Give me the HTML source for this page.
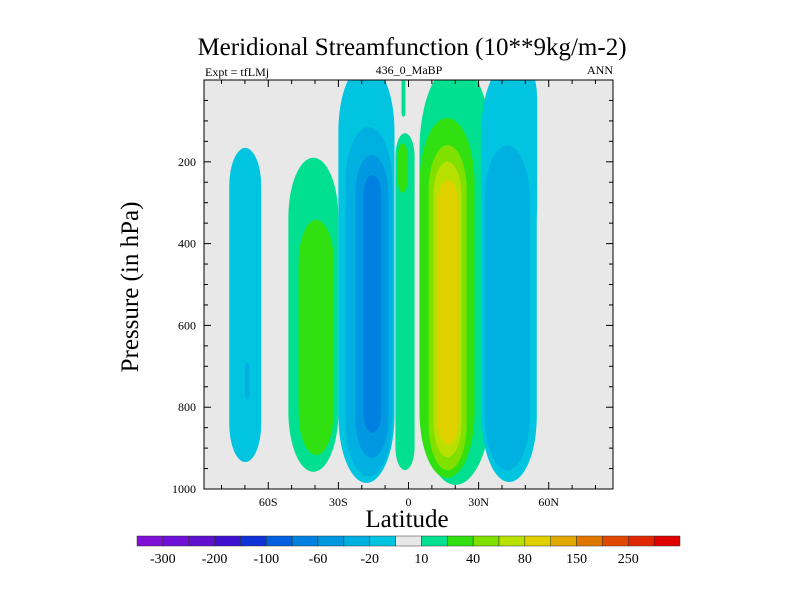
<!DOCTYPE html>
<html><head><meta charset="utf-8"><style>
body{margin:0;background:#fff;width:800px;height:600px;overflow:hidden}
svg{display:block;font-family:"Liberation Serif",serif}
</style></head><body>
<svg id="chart" width="800" height="600">
<text x="412" y="55" font-size="25" text-anchor="middle">Meridional Streamfunction (10**9kg/m-2)</text>
<text x="205" y="76" font-size="12">Expt = tfLMj</text>
<text x="409" y="74" font-size="12" text-anchor="middle">436_0_MaBP</text>
<text x="613" y="74" font-size="12" text-anchor="end">ANN</text>
<text transform="translate(138,287) rotate(-90)" font-size="25" text-anchor="middle">Pressure (in hPa)</text>
<text x="407" y="527" font-size="25" text-anchor="middle">Latitude</text>
<g id="plot"></g>
<g id="cbar"></g>
</svg>
<script>
const levels=[-300,-250,-200,-150,-100,-80,-60,-40,-20,-10,10,20,40,60,80,100,150,200,250,300];
const colors=["#8010D8","#7010D8","#6010D0","#4010D0","#1030D8","#0060E0","#0080E0","#0098E0","#00B0E0","#00C4E0","#E8E8E8","#00E090","#30E010","#80E000","#B8E000","#E0D000","#E0A800","#E07800","#E04800","#E02800","#E00000"];
const cbarLabels=["-300","-200","-100","-60","-20","10","40","80","150","250"];
const xTicks=[-60,-30,0,30,60];
const xTickLabels=["60S","30S","0","30N","60N"];
const yTicks=[200,400,600,800,1000];
// contour cells: level value, lat range, pressure range (hPa)
const cellLevel=[-10,-20, 10,20, -10,-20,-40,-60, 10,10,20, 10,20,40,60,80, -10,-10,-20];
const cellLat0=[-76.7,-70,-51.4,-47,-30,-27,-22.7,-19.3,-3,-5.6,-4.5,4.7,4.7,8.6,10.7,12.4,31.3,43,32.6];
const cellLat1=[-63,-68,-30,-32,-6,-7,-8.6,-11.6,-1.3,2.6,-0.5,35.6,28.3,24.9,22.7,21.4,54.9,55,51.9];
const cellP0=[166,690,190,342,-40,115,183,232,-40,130,155,-40,93,159,200,245,-40,-40,160];
const cellP1=[934,780,958,917,985,970,924,863,90,954,276,990,973,954,922,892,983,400,954];

const X0=204,X1=613,Y0=80,Y1=489,LAT0=-87.5,LAT1=87.5;
const xs=l=>X0+(l-LAT0)/(LAT1-LAT0)*(X1-X0);
const ys=p=>Y0+p/1000*(Y1-Y0);
const NS="http://www.w3.org/2000/svg";
function mk(t,a,parent){const e=document.createElementNS(NS,t);for(const k in a)e.setAttribute(k,a[k]);parent.appendChild(e);return e;}
function colorFor(v){let i=0;if(v>0){while(i<levels.length&&v>=levels[i])i++;}else{while(i<levels.length&&v>levels[i])i++;}return colors[i];}
const plot=document.getElementById('plot');
const defs=mk('defs',{},plot);
const cp=mk('clipPath',{id:'clip'},defs);mk('rect',{x:X0,y:Y0,width:X1-X0,height:Y1-Y0},cp);
const bg=mk('rect',{x:X0,y:Y0,width:X1-X0,height:Y1-Y0,fill:"#E8E8E8"},plot);


const cg=mk('g',{'clip-path':'url(#clip)'},plot);
const order=cellLevel.map((v,i)=>i).sort((a,b)=>Math.abs(cellLevel[a])-Math.abs(cellLevel[b]));
order.forEach(i=>{
  const x=xs(cellLat0[i]),w=xs(cellLat1[i])-x,y=ys(cellP0[i]),h=ys(cellP1[i])-y;
  const r=mk('rect',{x:x,y:y,width:w,height:h,rx:w/2,ry:Math.min(h/2,w*1.2),fill:colorFor(cellLevel[i])},cg);
  
  
});
const frame=mk('rect',{x:X0,y:Y0,width:X1-X0,height:Y1-Y0,fill:"none",stroke:"#000","stroke-width":1},plot);


const tg=mk('g',{stroke:"#000","stroke-width":1},plot);
for(let l=-80;l<=80;l+=10){const x=xs(l),len=(l%30===0)?7:4;
  mk('line',{x1:x,y1:Y1,x2:x,y2:Y1-len},tg);mk('line',{x1:x,y1:Y0,x2:x,y2:Y0+len},tg);}
for(let p=50;p<1000;p+=50){const y=ys(p),len=(p%200===0)?7:4;
  mk('line',{x1:X0,y1:y,x2:X0+len,y2:y},tg);mk('line',{x1:X1,y1:y,x2:X1-len,y2:y},tg);}
xTicks.forEach((l,i)=>{const t=mk('text',{x:xs(l),y:Y1+17,'font-size':12,'text-anchor':'middle'},plot);t.textContent=xTickLabels[i];
  
  });
yTicks.forEach(p=>{const t=mk('text',{x:X0-8,y:ys(p)+4,'font-size':12,'text-anchor':'end'},plot);t.textContent=p;
  
  });
const cb=document.getElementById('cbar');
const CX0=137,CX1=680,CY=536,CH=10,bw=(CX1-CX0)/colors.length;
colors.forEach((c,i)=>{const r=mk('rect',{x:CX0+i*bw,y:CY,width:bw,height:CH,fill:c,stroke:"#333","stroke-width":0.5},cb);
  
  });
cbarLabels.forEach((s,i)=>{const t=mk('text',{x:CX0+(2*i+1)*bw,y:CY+27,'font-size':14,'text-anchor':'middle'},cb);t.textContent=s;
  
  });
</script>
</body></html>
